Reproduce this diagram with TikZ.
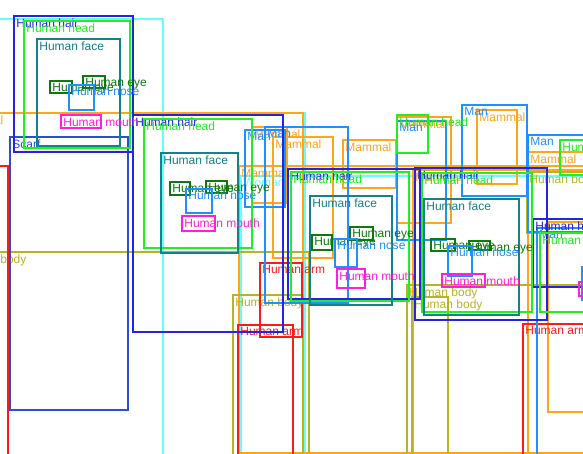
\documentclass[tikz,border=0pt]{standalone}
\usepackage{fontspec}
\setmainfont{Liberation Sans}

\definecolor{hair}{HTML}{2424E8}
\definecolor{head}{HTML}{22EE22}
\definecolor{face}{HTML}{16808C}
\definecolor{eye}{HTML}{0C7A0C}
\definecolor{nose}{HTML}{1E90FF}
\definecolor{mouth}{HTML}{FF1EDC}
\definecolor{mammal}{HTML}{FFA51A}
\definecolor{body}{HTML}{B8B424}
\definecolor{arm}{HTML}{FF1A1A}
\definecolor{woman}{HTML}{66FFFF}
\definecolor{scarf}{HTML}{2A4FD2}

\tikzset{
  bbox/.style={line width=2.7pt},
  blabel/.style={anchor=north west, inner sep=2.2pt,
    font=\fontsize{12}{13}\selectfont}
}

\begin{document}
\begin{tikzpicture}[x=1pt,y=-1pt]
  \useasboundingbox (0,0) rectangle (583,454);
  \clip (0,0) rectangle (583,454);
  \fill[white] (0,0) rectangle (583,454);

  % Woman (cyan), labels mostly hidden
  \draw[bbox,woman] (-20,19) rectangle (163,480);
  \draw[bbox,woman] (-20,113) rectangle (305,480);
  \draw[bbox,woman] (241,176) rectangle (620,480);
  \node[blabel,text=woman] (woman1) at (241,176) {Woman};

  % Mammal
  \foreach \xa/\ya/\xb/\yb/\txt [count=\i] in {
      -45/113/303/480/Mammal, 239/166/620/453/Mammal,
      413/170/620/480/Mammal, 528/152/620/480/Mammal,
      252/127/287/203/Mammal, 273/137/333/258/Mammal,
      343/140/396/188/Mammal, 397/117/451/223/Mammal,
      477/110/517/184/Mammal}{
    \draw[bbox,mammal] (\xa,\ya) rectangle (\xb,\yb);
    \node[blabel,text=mammal] (mammal\i) at (\xa,\ya) {\txt};
  }
  \draw[bbox,mammal] (548,222) rectangle (620,412);

  % Human body
  \foreach \xa/\ya/\xb/\yb/\txt [count=\i] in {
      -44/252/309/480/Human body, 233/295/303/480/Human body,
      407/285/620/480/Human body, 412/297/448/480/Human body,
      527/172/620/233/Human body}{
    \draw[bbox,body] (\xa,\ya) rectangle (\xb,\yb);
    \node[blabel,text=body] (body\i) at (\xa,\ya) {\txt};
  }

  % Human arm
  \draw[bbox,arm] (-20,166) rectangle (8,480);
  \foreach \xa/\ya/\xb/\yb/\txt [count=\i] in {
      260/263/302/337/Human arm, 238/325/293/480/Human arm,
      523/324/620/480/Human arm}{
    \draw[bbox,arm] (\xa,\ya) rectangle (\xb,\yb);
    \node[blabel,text=arm] (arm\i) at (\xa,\ya) {\txt};
  }

  % Scarf
  \draw[bbox,scarf] (10,137) rectangle (128,410);
  \node[blabel,text=scarf] (scarf1) at (10,137) {Scarf};

  % Man
  \foreach \xa/\ya/\xb/\yb/\txt [count=\i] in {
      245/130/285/207/Man, 265/127/348/303/Man,
      397/121/446/240/Man, 462/105/527/196/Man,
      528/135/620/232/Man, 537/228/620/480/Man}{
    \draw[bbox,nose] (\xa,\ya) rectangle (\xb,\yb);
    \node[blabel,text=nose] (man\i) at (\xa,\ya) {\txt};
  }

  % Human hair
  \foreach \xa/\ya/\xb/\yb/\txt [count=\i] in {
      14/16/133/152/Human hair, 133/115/283/332/Human hair,
      288/169/420/299/Human hair, 415/168/547/320/Human hair,
      533/219/620/287/Human hair}{
    \draw[bbox,hair] (\xa,\ya) rectangle (\xb,\yb);
    \node[blabel,text=hair] (hair\i) at (\xa,\ya) {\txt};
  }

  % Human head
  \foreach \xa/\ya/\xb/\yb/\txt [count=\i] in {
      24/21/130/148/Human head, 144/119/252/248/Human head,
      291/172/409/301/Human head, 397/115/428/153/Human head,
      422/173/532/312/Human head, 560/140/620/175/Human head,
      540/233/620/312/Human head}{
    \draw[bbox,head] (\xa,\ya) rectangle (\xb,\yb);
    \node[blabel,text=head] (head\i) at (\xa,\ya) {\txt};
  }

  % Human face
  \foreach \xa/\ya/\xb/\yb/\txt [count=\i] in {
      37/39/120/146/Human face, 161/153/238/253/Human face,
      310/196/392/305/Human face, 424/199/519/315/Human face}{
    \draw[bbox,face] (\xa,\ya) rectangle (\xb,\yb);
    \node[blabel,text=face] (face\i) at (\xa,\ya) {\txt};
  }

  % Human eye
  \foreach \xa/\ya/\xb/\yb/\txt [count=\i] in {
      50/81/72/93/Human eye, 83/76/105/88/Human eye,
      170/182/190/195/Human eye, 206/181/227/193/Human eye,
      312/235/332/250/Human eye, 350/227/373/240/Human eye,
      431/239/455/251/Human eye, 469/241/490/250/Human eye}{
    \draw[bbox,eye] (\xa,\ya) rectangle (\xb,\yb);
    \node[blabel,text=eye] (eye\i) at (\xa,\ya) {\txt};
  }

  % Human nose
  \foreach \xa/\ya/\xb/\yb/\txt [count=\i] in {
      69/85/94/110/Human nose, 186/189/212/213/Human nose,
      335/239/357/267/Human nose, 448/246/472/276/Human nose,
      582/267/600/300/Human nose}{
    \draw[bbox,nose] (\xa,\ya) rectangle (\xb,\yb);
    \node[blabel,text=nose] (nose\i) at (\xa,\ya) {\txt};
  }

  % Human mouth
  \foreach \xa/\ya/\xb/\yb/\txt [count=\i] in {
      61/115/101/128/Human mouth, 182/216/215/231/Human mouth,
      337/269/365/288/Human mouth, 442/274/485/287/Human mouth,
      579/282/600/296/Human mouth}{
    \draw[bbox,mouth] (\xa,\ya) rectangle (\xb,\yb);
    \node[blabel,text=mouth] (mouth\i) at (\xa,\ya) {\txt};
  }
\end{tikzpicture}
\end{document}
